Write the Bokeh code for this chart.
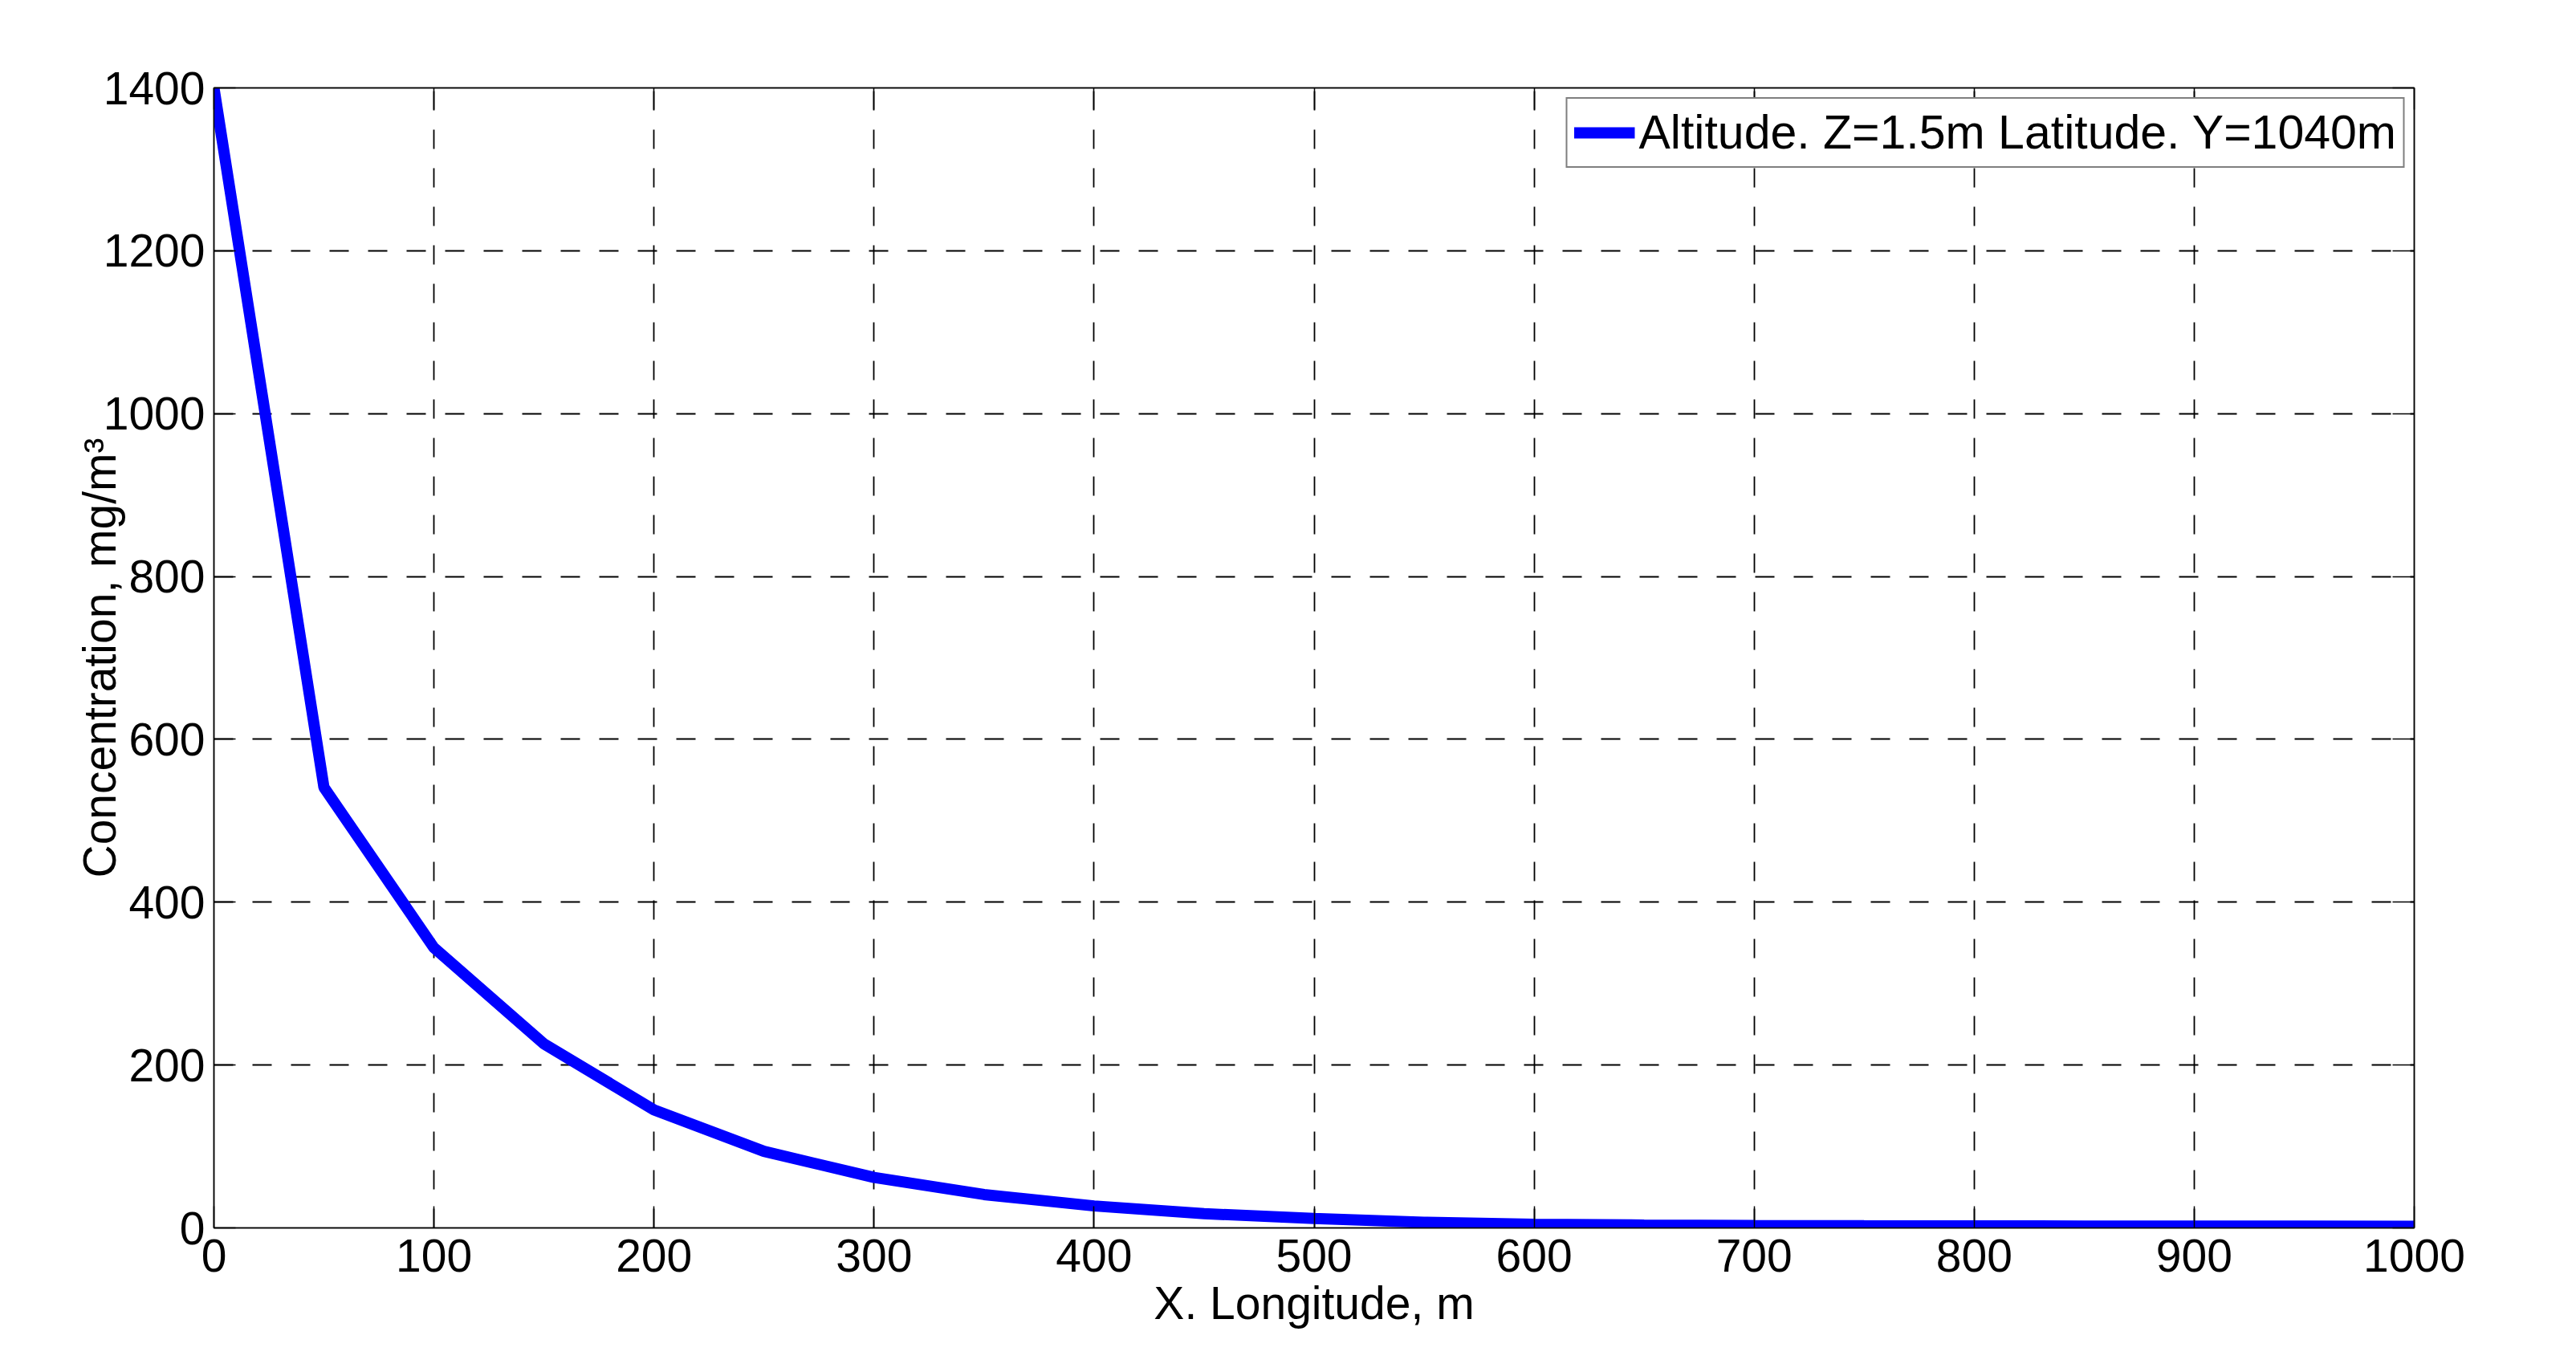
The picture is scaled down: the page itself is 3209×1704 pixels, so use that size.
from bokeh.plotting import figure
from bokeh.models import Range1d, LinearAxis, FixedTicker
from bokeh.embed import file_html
from bokeh.resources import INLINE

# data
longitude_m = [0, 50, 100, 150, 200, 250, 300, 350, 400, 450, 500,
               550, 600, 650, 700, 750, 800, 850, 900, 950, 1000]
concentration = [1400, 541, 344, 226, 145, 94, 62, 41, 27, 17.5, 11.5,
                 7, 4.5, 3.5, 3, 2.7, 2.5, 2.3, 2.2, 2.1, 2.0]

x_ticks = [0, 100, 200, 300, 400, 500, 600, 700, 800, 900, 1000]
y_ticks = [0, 200, 400, 600, 800, 1000, 1200, 1400]

series_label = "Altitude. Z=1.5m Latitude. Y=1040m"
x_title = "X. Longitude, m"
y_title = "Concentration, mg/m\u00b3"

FONT = "Liberation Sans"
FS = "57px"

p = figure(width=3201, height=1696,
           x_range=Range1d(0, 1000), y_range=Range1d(0, 1400),
           output_backend="svg", toolbar_location=None, tools="",
           min_border_left=266, min_border_right=194,
           min_border_top=109, min_border_bottom=167)

p.background_fill_color = "white"
p.border_fill_color = "white"
p.outline_line_color = "black"
p.outline_line_width = 1.5

# the curve
p.line(longitude_m, concentration, line_width=14, line_color="#0000ff",
       legend_label=series_label)

# axes, MATLAB style: ticks inside, on all four sides
for ax in [p.xaxis[0], p.yaxis[0]]:
    ax.major_tick_in = 27
    ax.major_tick_out = 0
    ax.minor_tick_line_color = None
    ax.axis_line_color = "black"
    ax.axis_line_width = 1.5
    ax.major_tick_line_color = "black"
    ax.major_tick_line_width = 1.5
    ax.major_label_text_font = FONT
    ax.major_label_text_font_size = FS
    ax.major_label_text_color = "black"
    ax.axis_label_text_font = FONT
    ax.axis_label_text_font_size = FS
    ax.axis_label_text_font_style = "normal"
    ax.axis_label_text_color = "black"

p.xaxis.ticker = FixedTicker(ticks=x_ticks)
p.yaxis.ticker = FixedTicker(ticks=y_ticks)
p.xaxis.axis_label = x_title
p.yaxis.axis_label = y_title
p.xaxis.major_label_standoff = 14
p.yaxis.major_label_standoff = 11
p.xaxis.axis_label_standoff = 4
p.yaxis.axis_label_standoff = -30

# top and right: tick marks only (drawn as minor ticks, so no labels)
top_axis = LinearAxis(ticker=FixedTicker(ticks=[], minor_ticks=x_ticks),
                      minor_tick_in=27, minor_tick_out=0,
                      minor_tick_line_color="black", minor_tick_line_width=1.5,
                      axis_line_color="black", axis_line_width=1.5)
right_axis = LinearAxis(ticker=FixedTicker(ticks=[], minor_ticks=y_ticks),
                        minor_tick_in=27, minor_tick_out=0,
                        minor_tick_line_color="black", minor_tick_line_width=1.5,
                        axis_line_color="black", axis_line_width=1.5)
p.add_layout(top_axis, "above")
p.add_layout(right_axis, "right")

# dashed black grid
p.xgrid.ticker = FixedTicker(ticks=x_ticks)
p.ygrid.ticker = FixedTicker(ticks=y_ticks)
for g in [p.xgrid[0], p.ygrid[0]]:
    g.grid_line_color = "black"
    g.grid_line_alpha = 1.0
    g.grid_line_width = 1.8
    g.grid_line_dash = "24 24"

# legend
p.legend.location = "top_right"
p.legend.margin = 12
p.legend.padding = 8
p.legend.glyph_width = 76
p.legend.label_standoff = 5
p.legend.label_text_font = FONT
p.legend.label_text_font_size = "59px"
p.legend.label_text_color = "black"
p.legend.border_line_color = "black"
p.legend.border_line_width = 2
p.legend.background_fill_alpha = 1.0

open("out.html", "w").write(file_html(p, INLINE))
